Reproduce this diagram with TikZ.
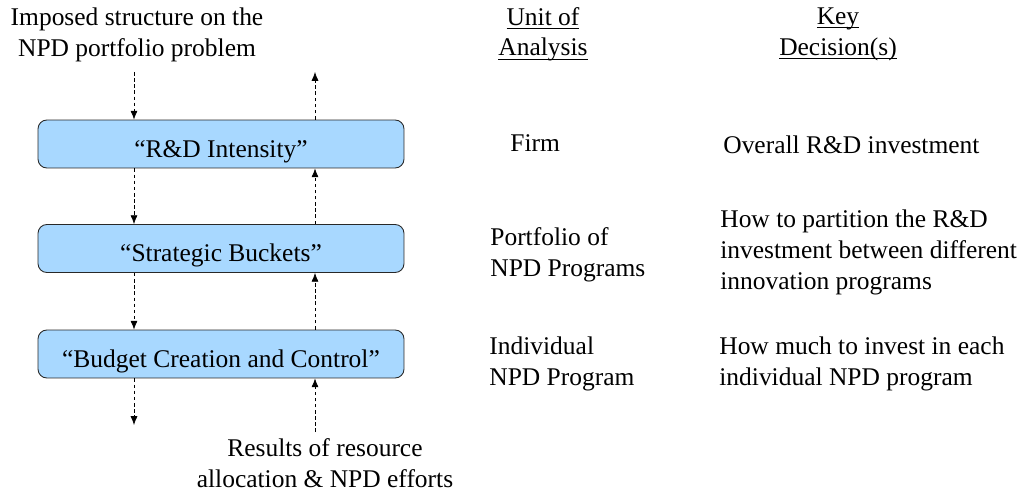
\documentclass[tikz,border=0pt]{standalone}
\usepackage{amsmath}
\usepackage{fontspec}
\setmainfont{Liberation Serif}
\usepackage{tikz}
\usetikzlibrary{arrows.meta, positioning}
\definecolor{boxblue}{RGB}{168,216,255}
\definecolor{boxline}{RGB}{40,40,40}
\newcommand{\colhead}[1]{\underline{\smash[b]{#1}}}

\begin{document}
\begin{tikzpicture}[
  x=0.02cm, y=-0.02cm,
  every node/.style={font=\fontsize{14.5}{17.5}\selectfont},
  level/.style={draw=boxline, fill=boxblue, rounded corners=5pt, minimum width=7.32cm, minimum height=0.96cm, line width=0.5pt, text height=16pt, text depth=1pt},
  flow/.style={draw, dashed, dash pattern=on 2pt off 1.5pt, line width=0.4pt, -{Latex[length=5pt, width=4pt]}},
  txt/.style={align=left, anchor=west, inner sep=0pt},
  head/.style={align=center, inner sep=0pt},
]
\useasboundingbox (0,0) rectangle (1024,493);

% Levels
\node[level] (rd) at (221,144) {``R\&D Intensity''};
\node[level] (sb) at (221,248.5) {``Strategic Buckets''};
\node[level] (bc) at (221,354) {``Budget Creation and Control''};

% Top and bottom texts
\node[head] (imposed) at (137,35) {Imposed structure on the\\NPD portfolio problem};
\node[head] (results) at (325,463) {Results of resource\\allocation \& NPD efforts};

% Arrows
\coordinate (lx) at (134,0);
\coordinate (rx) at (315,0);
\coordinate (intop) at (134,72);
\coordinate (outtop) at (315,72);
\coordinate (inbot) at (134,425);
\coordinate (outbot) at (315,432);
\draw[flow] (intop) -- (intop |- rd.north);
\draw[flow] (outtop |- rd.north) -- (outtop);
\foreach \a/\b in {rd/sb, sb/bc} {
  \draw[flow] (\a.south -| lx) -- (\b.north -| lx);
  \draw[flow] (\b.north -| rx) -- (\a.south -| rx);
}
\draw[flow] (bc.south -| lx) -- (inbot);
\draw[flow] (outbot) -- (bc.south -| rx);

% Column heads
\node[head] (unit) at (543,34) {\colhead{Unit of}\\\colhead{Analysis}};
\node[head] (key) at (838,34) {\colhead{Key}\\\colhead{Decision(s)}};

% Unit of analysis
\node[txt] (firm) at (510,143) {Firm};
\node[txt] (portfolio) at (490,255) {Portfolio of\\NPD Programs};
\node[txt] (individual) at (489,364) {Individual\\NPD Program};

% Key decisions
\node[txt] (overall) at (723,145) {Overall R\&D investment};
\node[txt] (partition) at (720,252.5) {How to partition the R\&D\\investment between different\\innovation programs};
\node[txt] (howmuch) at (719,364) {How much to invest in each\\individual NPD program};
\end{tikzpicture}
\end{document}
